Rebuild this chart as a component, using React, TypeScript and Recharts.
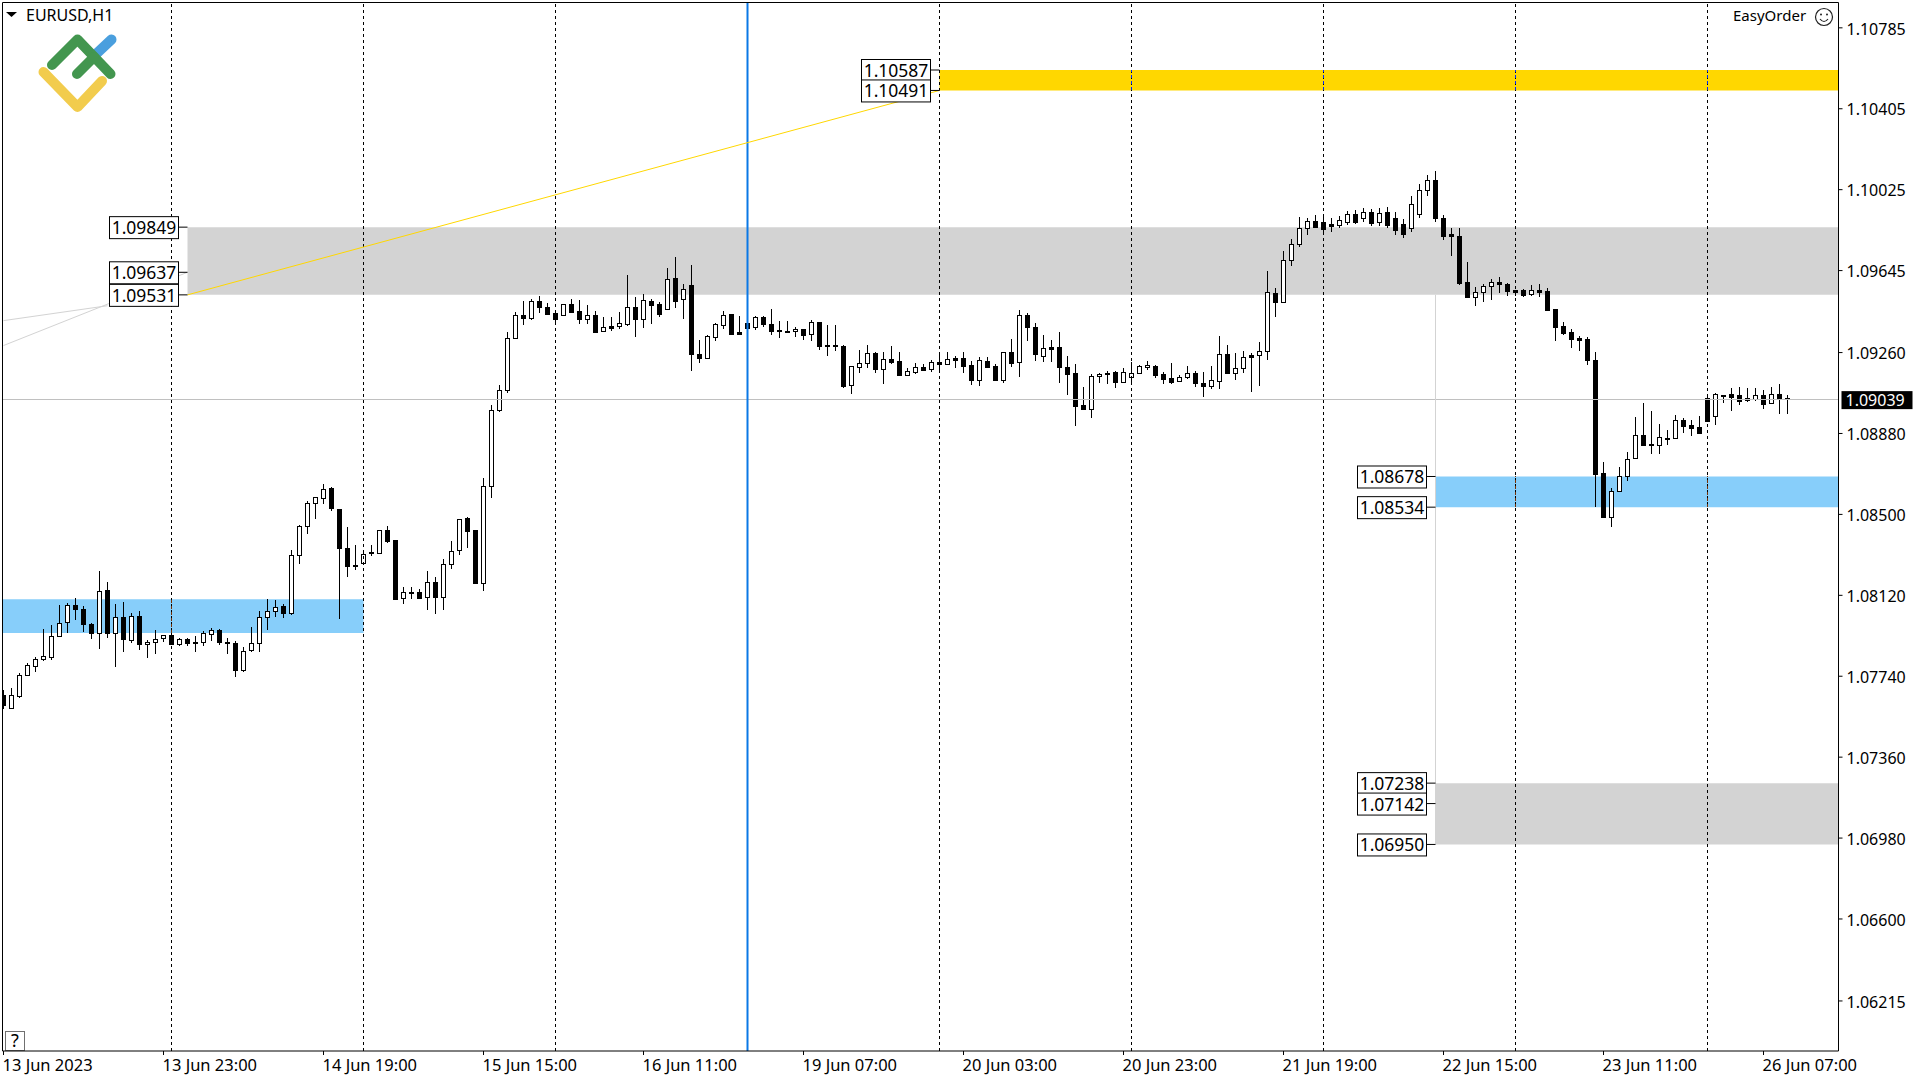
import { Bar, ComposedChart, ReferenceArea, ReferenceDot, ReferenceLine, XAxis, YAxis } from 'recharts';

const font = '"Noto Sans", sans-serif';

// EURUSD H1 candles in points (1.09039 = 109039), bar by bar
const opens = [
  107651, 107590, 107643, 107741, 107783, 107818, 107826, 107924, 107990, 108073,
  108052, 107982, 107938, 108142, 107938, 108015, 107905, 108020, 107888, 107898,
  107915, 107930, 107888, 107912, 107898, 107898, 107935, 107955, 107898, 107894,
  107765, 107858, 107893, 108015, 108043, 108068, 108032, 108304, 108442, 108550,
  108573, 108620, 108521, 108339, 108260, 108267, 108320, 108318, 108423, 108376,
  108104, 108134, 108134, 108109, 108179, 108109, 108262, 108328, 108481, 108423,
  108173, 108629, 108988, 109082, 109324, 109434, 109421, 109498, 109469, 109441,
  109435, 109484, 109451, 109416, 109432, 109360, 109380, 109383, 109393, 109469,
  109416, 109498, 109484, 109460, 109606, 109507, 109573, 109249, 109233, 109332,
  109388, 109437, 109352, 109396, 109379, 109423, 109390, 109362, 109357, 109357,
  109366, 109343, 109399, 109293, 109293, 109287, 109104, 109191, 109207, 109255,
  109182, 109226, 109216, 109154, 109168, 109188, 109179, 109212, 109202, 109230,
  109230, 109198, 109127, 109218, 109194, 109126, 109258, 109212, 109432, 109376,
  109243, 109284, 109282, 109188, 109160, 109010, 108994, 109146, 109155, 109165,
  109121, 109144, 109163, 109187, 109193, 109155, 109137, 109123, 109144, 109160,
  109113, 109102, 109123, 109249, 109160, 109184, 109245, 109245, 109263, 109535,
  109496, 109694, 109769, 109840, 109873, 109870, 109860, 109856, 109870, 109907,
  109889, 109917, 109870, 109917, 109889, 109860, 109842, 109907, 110020, 110067,
  109889, 109814, 109804, 109588, 109520, 109540, 109568, 109587, 109578, 109550,
  109551, 109531, 109550, 109545, 109462, 109382, 109354, 109326, 109321, 109223,
  108693, 108483, 108605, 108675, 108760, 108871, 108829, 108821, 108852, 108858,
  108941, 108918, 108908, 109044, 108957, 109060, 109063, 109059, 109032, 109041,
  109059, 109018, 109063, 109044,
];
const highs = [
  107674, 107684, 107752, 107799, 107829, 107960, 107979, 108073, 108081, 108106,
  108068, 107987, 108232, 108179, 108077, 108087, 108034, 108045, 107909, 107955,
  107929, 107940, 107916, 107918, 107927, 107948, 107962, 107960, 107918, 107902,
  107876, 107969, 108045, 108101, 108095, 108076, 108331, 108448, 108559, 108578,
  108640, 108625, 108521, 108439, 108354, 108315, 108354, 108425, 108443, 108376,
  108157, 108157, 108148, 108232, 108204, 108288, 108373, 108475, 108486, 108426,
  108669, 109011, 109105, 109354, 109446, 109499, 109509, 109523, 109490, 109441,
  109487, 109509, 109504, 109479, 109451, 109424, 109424, 109448, 109621, 109518,
  109532, 109509, 109495, 109652, 109706, 109579, 109668, 109315, 109338, 109396,
  109451, 109437, 109429, 109396, 109427, 109427, 109462, 109404, 109405, 109376,
  109366, 109410, 109399, 109387, 109387, 109291, 109193, 109268, 109293, 109259,
  109260, 109288, 109260, 109185, 109208, 109204, 109223, 109260, 109260, 109241,
  109260, 109218, 109235, 109237, 109204, 109258, 109321, 109457, 109441, 109395,
  109338, 109315, 109352, 109241, 109202, 109096, 109155, 109162, 109169, 109171,
  109184, 109212, 109198, 109218, 109198, 109165, 109209, 109154, 109194, 109169,
  109166, 109194, 109334, 109293, 109254, 109263, 109254, 109307, 109640, 109558,
  109732, 109788, 109896, 109887, 109901, 109898, 109889, 109898, 109921, 109926,
  109936, 109931, 109936, 109940, 109917, 109884, 109992, 110048, 110090, 110109,
  109903, 109842, 109842, 109682, 109564, 109578, 109601, 109612, 109582, 109552,
  109556, 109575, 109579, 109559, 109462, 109401, 109368, 109335, 109331, 109260,
  108744, 108622, 108721, 108791, 108955, 109021, 108983, 108922, 108894, 108965,
  108951, 108941, 108960, 109048, 109068, 109060, 109091, 109096, 109091, 109091,
  109082, 109096, 109110, 109059,
];
const lows = [
  107581, 107581, 107635, 107737, 107755, 107807, 107812, 107919, 107938, 108002,
  107946, 107913, 107863, 107915, 107779, 107852, 107894, 107862, 107824, 107843,
  107899, 107887, 107877, 107877, 107852, 107877, 107901, 107882, 107843, 107735,
  107758, 107852, 107852, 107955, 108016, 108012, 108026, 108265, 108406, 108476,
  108547, 108514, 108007, 108204, 108237, 108262, 108303, 108312, 108365, 108096,
  108077, 108101, 108102, 108049, 108030, 108049, 108242, 108307, 108340, 108173,
  108138, 108576, 108979, 109068, 109319, 109387, 109410, 109444, 109440, 109400,
  109429, 109444, 109391, 109391, 109349, 109360, 109360, 109368, 109383, 109330,
  109373, 109391, 109424, 109460, 109466, 109415, 109172, 109210, 109233, 109312,
  109368, 109340, 109340, 109298, 109363, 109379, 109340, 109326, 109355, 109332,
  109316, 109312, 109269, 109241, 109265, 109091, 109063, 109162, 109185, 109160,
  109110, 109204, 109154, 109154, 109157, 109176, 109166, 109160, 109199, 109185,
  109162, 109105, 109101, 109185, 109124, 109112, 109190, 109143, 109312, 109218,
  109213, 109213, 109115, 109058, 108913, 108988, 108950, 109115, 109110, 109091,
  109115, 109115, 109160, 109176, 109138, 109110, 109110, 109121, 109135, 109096,
  109049, 109088, 109087, 109159, 109129, 109160, 109073, 109101, 109223, 109426,
  109489, 109665, 109754, 109808, 109841, 109823, 109823, 109842, 109856, 109860,
  109870, 109851, 109851, 109842, 109809, 109795, 109823, 109889, 109990, 109870,
  109785, 109710, 109574, 109513, 109478, 109496, 109504, 109537, 109523, 109523,
  109518, 109523, 109518, 109453, 109312, 109340, 109279, 109265, 109199, 108533,
  108482, 108439, 108603, 108655, 108760, 108824, 108782, 108782, 108824, 108852,
  108880, 108866, 108880, 108937, 108918, 109021, 108983, 109012, 109026, 109030,
  108993, 109018, 108969, 108969,
];
const closes = [
  107604, 107651, 107741, 107790, 107818, 107832, 107926, 107987, 108071, 108051,
  107980, 107938, 108137, 107938, 108015, 107910, 108020, 107887, 107898, 107912,
  107929, 107887, 107912, 107891, 107891, 107938, 107954, 107896, 107891, 107765,
  107855, 107893, 108015, 108043, 108062, 108032, 108304, 108442, 108550, 108578,
  108615, 108529, 108337, 108257, 108256, 108310, 108314, 108423, 108374, 108102,
  108132, 108126, 108106, 108179, 108107, 108263, 108324, 108475, 108417, 108173,
  108629, 108988, 109082, 109324, 109432, 109421, 109498, 109473, 109440, 109415,
  109484, 109449, 109416, 109432, 109355, 109376, 109374, 109394, 109469, 109416,
  109502, 109480, 109438, 109604, 109501, 109554, 109248, 109233, 109334, 109391,
  109435, 109345, 109345, 109374, 109423, 109393, 109360, 109359, 109355, 109366,
  109341, 109399, 109290, 109287, 109287, 109102, 109193, 109207, 109254, 109182,
  109226, 109215, 109154, 109169, 109188, 109177, 109212, 109202, 109226, 109224,
  109196, 109126, 109221, 109191, 109129, 109258, 109210, 109432, 109376, 109248,
  109277, 109276, 109187, 109158, 109008, 108993, 109146, 109155, 109163, 109121,
  109165, 109160, 109193, 109198, 109154, 109135, 109121, 109144, 109160, 109112,
  109102, 109127, 109249, 109159, 109184, 109235, 109238, 109263, 109540, 109496,
  109694, 109769, 109840, 109873, 109848, 109837, 109851, 109879, 109907, 109870,
  109917, 109865, 109912, 109856, 109832, 109814, 109954, 110020, 110067, 109889,
  109804, 109804, 109584, 109519, 109540, 109568, 109587, 109578, 109548, 109543,
  109528, 109550, 109543, 109457, 109379, 109351, 109321, 109317, 109223, 108689,
  108486, 108607, 108677, 108757, 108869, 108824, 108821, 108860, 108857, 108940,
  108913, 108904, 108880, 108937, 109062, 109055, 109049, 109030, 109043, 109057,
  109016, 109062, 109040, 109039,
];

const priceTicks = [
  1.10785, 1.10405, 1.10025, 1.09645, 1.0926, 1.0888, 1.085, 1.0812, 1.0774, 1.0736, 1.0698, 1.066, 1.06215,
];
const timeTicks = [0, 20, 40, 60, 80, 100, 120, 140, 160, 180, 200, 220];
const timeLabels = [
  '13 Jun 2023', '13 Jun 23:00', '14 Jun 19:00', '15 Jun 15:00', '16 Jun 11:00', '19 Jun 07:00',
  '20 Jun 03:00', '20 Jun 23:00', '21 Jun 19:00', '22 Jun 15:00', '23 Jun 11:00', '26 Jun 07:00',
];
const separators = [21, 45, 69, 117, 141, 165, 189, 213];
const selectedBar = 93;
const lastPrice = 1.09039;

const leftLevels = [1.09849, 1.09637, 1.09531];
const topLevels = [1.10587, 1.10491];
const rightLevels = [1.08678, 1.08534, 1.07238, 1.07142, 1.0695];
const oldZone = [1.07943, 1.08101];

const xMin = -0.125;
const xMax = 229.375;
const yMin = 1.0598;
const yMax = 1.10904;

// the candle table was read about 3 points low against the level lines
const toPrice = (points: number) => (points + 3) / 100000;

const rows = opens.map((o, i) => ({
  i,
  open: toPrice(o),
  high: toPrice(highs[i]),
  low: toPrice(lows[i]),
  close: toPrice(closes[i]),
  range: [toPrice(lows[i]), toPrice(highs[i])],
}));

function Candle(props: any) {
  const { x, y, width, height, payload } = props;
  const cx = Math.floor(x + width / 2) + 0.5;
  const top = Math.min(y, y + height);
  const h = Math.abs(height);
  const perPrice = payload.high === payload.low ? 0 : h / (payload.high - payload.low);
  const bodyHigh = Math.max(payload.open, payload.close);
  const bodyLow = Math.min(payload.open, payload.close);
  const y1 = Math.round(top + (payload.high - bodyHigh) * perPrice);
  const y2 = Math.round(top + (payload.high - bodyLow) * perPrice);
  const up = payload.close >= payload.open;
  return (
    <g shapeRendering="crispEdges">
      <line x1={cx} x2={cx} y1={top} y2={top + h} stroke="#000" strokeWidth={1} />
      <rect
        x={cx - 2}
        y={y1 + 0.5}
        width={4}
        height={Math.max(y2 - y1, 1)}
        fill={up ? '#fff' : '#000'}
        stroke="#000"
        strokeWidth={1}
      />
    </g>
  );
}

function LevelBox(props: any) {
  const { cx, cy, value } = props;
  return (
    <g>
      <line x1={cx - 9} x2={cx} y1={cy} y2={cy} stroke="#000" strokeWidth={1} />
      <rect x={cx - 78} y={cy - 10.5} width={69} height={22} fill="#fff" stroke="#000" strokeWidth={1} />
      <text x={cx - 43.5} y={cy + 7} textAnchor="middle" fontFamily={font} fontSize={17.5} fill="#000">
        {value.toFixed(5)}
      </text>
    </g>
  );
}

function LastPriceTag(props: any) {
  const { cx, cy } = props;
  return (
    <g>
      <rect x={cx + 3} y={cy - 8.5} width={71} height={18} fill="#000" />
      <text x={cx + 7} y={cy + 6.5} fontFamily={font} fontSize={16} fill="#fff">
        {lastPrice.toFixed(5)}
      </text>
    </g>
  );
}

function TimeTick(props: any) {
  const { x, y, payload } = props;
  return (
    <text x={x - 1} y={y + 14} fontFamily={font} fontSize={16.5} fill="#000">
      {timeLabels[timeTicks.indexOf(payload.value)]}
    </text>
  );
}

function Decorations() {
  return (
    <g>
      <path d="M6 12 L17 12 L11.5 17 Z" fill="#000" />
      <text x={26} y={21} fontFamily={font} fontSize={16} fill="#000">EURUSD,H1</text>
      <g fill="none" strokeWidth={10} strokeLinecap="round" strokeLinejoin="round">
        <path d="M95 55 L111.5 39.5" stroke="#4a9fde" />
        <path d="M52 65 L77.5 39.5 L110.5 74" stroke="#43964f" />
        <path d="M77 74 L94 57" stroke="#43964f" />
        <path d="M43.5 72 L77.5 107 L102 81" stroke="#f2cc4d" />
      </g>
      <text x={1733} y={21} fontFamily={font} fontSize={15} fill="#000">EasyOrder</text>
      <g fill="none" stroke="#222" strokeWidth={1.2}>
        <circle cx={1824} cy={17} r={8.5} />
        <path d="M1820 19 Q1824 24 1828 19" />
      </g>
      <circle cx={1821} cy={14.5} r={1} fill="#222" />
      <circle cx={1827} cy={14.5} r={1} fill="#222" />
      <rect x={5.5} y={1031.5} width={19} height={19} fill="#fff" stroke="#707070" />
      <text x={15} y={1047} textAnchor="middle" fontFamily={font} fontSize={18} fill="#000">?</text>
    </g>
  );
}

export default function App() {
  return (
    <div style={{ position: 'absolute', left: 0, top: 0, width: 1920, height: 1080, background: '#fff' }}>
      <ComposedChart
        width={1920}
        height={1080}
        data={rows}
        margin={{ top: 2.5, right: 0, bottom: 0, left: 2.5 }}
        barSize={5}
      >
        <XAxis
          dataKey="i"
          type="number"
          domain={[xMin, xMax]}
          ticks={timeTicks}
          interval={0}
          height={29}
          tick={<TimeTick />}
          tickLine={{ stroke: '#000' }}
          tickSize={4}
          axisLine={{ stroke: '#000' }}
          allowDataOverflow
        />
        <YAxis
          orientation="right"
          type="number"
          domain={[yMin, yMax]}
          ticks={priceTicks}
          interval={0}
          width={81.5}
          tickFormatter={(v: number) => v.toFixed(5)}
          tick={{ fontFamily: font, fontSize: 16, fill: '#000', dy: 1 }}
          tickLine={{ stroke: '#000' }}
          tickSize={4}
          tickMargin={4}
          axisLine={{ stroke: '#000' }}
          allowDataOverflow
        />

        {separators.map((s) => (
          <ReferenceLine key={s} x={s} stroke="#000" strokeDasharray="3 3" shapeRendering="crispEdges" />
        ))}
        <ReferenceLine y={lastPrice} stroke="#c0c0c0" shapeRendering="crispEdges" />

        <ReferenceArea x1={117} x2={xMax} y1={topLevels[1]} y2={topLevels[0]} fill="#ffd700" fillOpacity={1} stroke="none" />
        <ReferenceArea x1={23} x2={xMax} y1={leftLevels[2]} y2={leftLevels[0]} fill="#d3d3d3" fillOpacity={1} stroke="none" />
        <ReferenceArea x1={179} x2={xMax} y1={rightLevels[1]} y2={rightLevels[0]} fill="#87cefa" fillOpacity={1} stroke="none" />
        <ReferenceArea x1={179} x2={xMax} y1={rightLevels[4]} y2={rightLevels[2]} fill="#d3d3d3" fillOpacity={1} stroke="none" />
        <ReferenceArea x1={xMin} x2={45} y1={oldZone[0]} y2={oldZone[1]} fill="#87cefa" fillOpacity={1} stroke="none" />

        {/* separators show through the coloured zones as inverted dashes */}
        {[141, 165, 189, 213].map((s) => (
          <ReferenceLine
            key={`top-${s}`}
            segment={[{ x: s, y: topLevels[1] }, { x: s, y: topLevels[0] }]}
            stroke="#0028ff"
            strokeDasharray="3 3"
            shapeRendering="crispEdges"
          />
        ))}
        {[189, 213].map((s) => (
          <ReferenceLine
            key={`right-${s}`}
            segment={[{ x: s, y: rightLevels[1] }, { x: s, y: rightLevels[0] }]}
            stroke="#783105"
            strokeDasharray="3 3"
            shapeRendering="crispEdges"
          />
        ))}
        <ReferenceLine
          segment={[{ x: 21, y: oldZone[0] }, { x: 21, y: oldZone[1] }]}
          stroke="#783105"
          strokeDasharray="3 3"
          shapeRendering="crispEdges"
        />

        <ReferenceLine x={selectedBar} stroke="#0a78e6" strokeWidth={2} />
        <ReferenceLine segment={[{ x: 179, y: leftLevels[2] }, { x: 179, y: rightLevels[4] }]} stroke="#d3d3d3" />
        <ReferenceLine segment={[{ x: 23, y: leftLevels[2] }, { x: 117, y: topLevels[1] }]} stroke="#ffd700" />
        <ReferenceLine segment={[{ x: 0, y: 1.09293 }, { x: 23, y: leftLevels[1] }]} stroke="#d3d3d3" />
        <ReferenceLine segment={[{ x: 0, y: 1.0941 }, { x: 13, y: 1.0948 }]} stroke="#d3d3d3" />

        <ReferenceLine x={xMin} stroke="#000" />
        <ReferenceLine y={yMax} stroke="#000" />

        <Bar dataKey="range" shape={<Candle />} isAnimationActive={false} />

        {leftLevels.map((v) => (
          <ReferenceDot key={v} x={23} y={v} r={0} shape={<LevelBox value={v} />} />
        ))}
        {topLevels.map((v) => (
          <ReferenceDot key={v} x={117} y={v} r={0} shape={<LevelBox value={v} />} />
        ))}
        {rightLevels.map((v) => (
          <ReferenceDot key={v} x={179} y={v} r={0} shape={<LevelBox value={v} />} />
        ))}
        <ReferenceDot x={xMax} y={lastPrice} r={0} ifOverflow="visible" shape={<LastPriceTag />} />

        <Decorations />
      </ComposedChart>
    </div>
  );
}
